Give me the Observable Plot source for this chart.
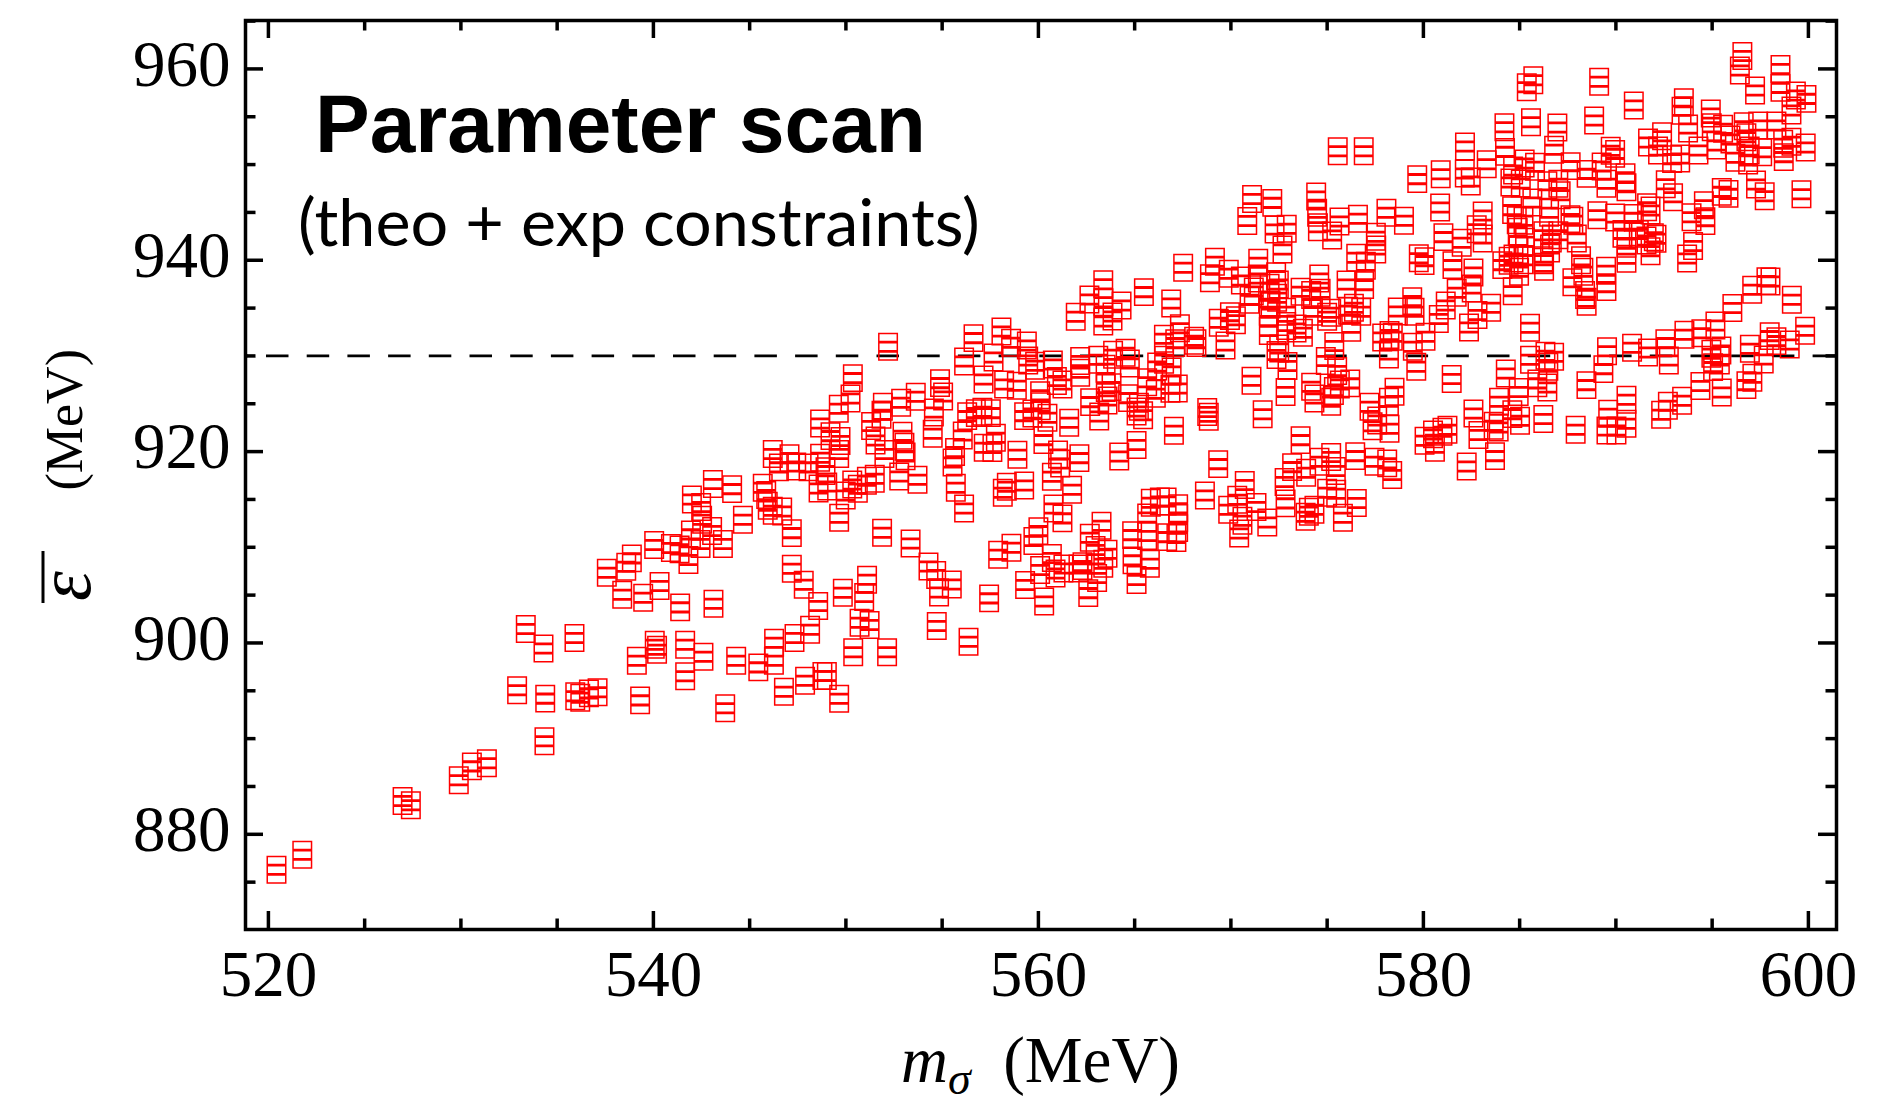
<!DOCTYPE html>
<html>
<head>
<meta charset="utf-8">
<script src="https://cdn.jsdelivr.net/npm/d3@7"></script>
<script src="https://cdn.jsdelivr.net/npm/@observablehq/plot@0.6"></script>
<style>
  html, body { margin: 0; padding: 0; background: #ffffff; }
  #chart { width: 1885px; height: 1103px; }
</style>
</head>
<body>
<div id="chart"></div>
<script>
// Scan points: sigma mass (MeV) and the mean energy (MeV) for each accepted parameter set
const massSigma = [
  543.09,544.09,542.00,542.48,541.95,542.45,543.05,543.61,541.82,541.36,540.91,540.04,542.53,538.88,538.59,537.58,
  538.38,539.47,540.32,541.39,543.12,533.37,534.29,535.90,540.07,540.19,541.65,542.60,539.14,541.65,544.30,532.92,
  534.38,535.94,536.20,536.65,537.10,539.31,543.73,534.34,530.57,531.35,529.89,526.97,527.40,521.76,520.42,
  552.19,550.36,550.24,549.63,548.66,549.20,549.72,551.31,551.92,551.85,552.87,551.54,552.94,553.04,553.10,552.77,
  552.00,546.20,546.52,547.07,547.42,548.06,548.66,548.58,548.94,549.03,549.65,549.99,550.33,550.62,551.09,551.50,
  549.65,545.68,545.86,545.94,546.20,546.69,544.65,547.19,551.88,553.36,547.19,547.81,548.56,549.84,551.10,550.95,
  550.71,551.23,548.14,547.33,546.27,546.26,545.45,550.38,552.14,547.88,548.78,549.01,546.78,549.65,
  561.94,556.63,558.08,558.58,559.40,556.14,557.67,557.15,558.22,558.88,559.83,560.75,562.17,559.47,560.09,560.96,
  561.25,562.17,553.63,554.89,555.05,554.57,554.51,553.72,556.30,556.07,556.75,557.09,557.53,557.16,557.61,557.79,
  555.67,555.54,555.71,556.14,558.91,559.26,558.36,558.15,559.26,559.69,560.12,560.47,560.26,561.60,561.02,561.13,
  562.13,560.70,561.75,560.78,561.25,554.29,554.69,554.84,555.50,554.72,556.37,557.44,557.91,558.60,559.31,559.74,
  560.00,560.09,560.30,560.70,560.89,561.30,562.08,562.29,
  567.52,569.17,568.91,569.89,570.52,571.42,571.19,570.97,563.37,562.65,563.38,564.32,565.48,566.90,563.37,563.85,
  567.35,569.95,569.37,570.26,566.52,567.11,568.09,568.21,569.72,563.11,563.49,563.88,564.53,564.75,563.50,563.59,
  563.80,562.69,563.16,564.66,565.10,565.22,565.44,565.65,566.17,566.53,566.92,566.10,566.86,567.24,567.04,565.10,
  564.20,568.77,568.85,571.07,569.34,568.65,570.72,570.33,569.86,570.60,570.43,571.33,565.84,566.31,566.66,567.26,
  567.26,567.26,567.17,565.65,565.65,564.87,566.69,565.79,564.89,565.10,563.28,562.67,562.97,563.59,563.37,563.05,
  562.59,570.85,571.10,
  575.55,576.90,579.68,572.15,574.43,574.48,574.52,575.26,575.64,576.60,572.27,572.90,572.68,571.40,572.35,572.01,
  572.49,572.40,572.06,571.97,572.87,573.62,574.17,574.59,574.66,575.21,574.26,573.41,572.87,571.97,573.74,572.51,
  572.37,572.94,572.84,571.65,574.17,574.34,575.21,575.35,575.66,574.93,575.37,575.52,576.20,575.00,576.09,576.39,
  576.77,576.25,576.01,576.51,577.01,576.92,577.53,577.55,578.08,578.99,579.76,580.06,578.67,579.42,579.54,577.86,
  578.24,578.41,578.21,579.45,579.63,580.11,577.20,577.60,577.36,578.21,578.50,578.24,580.06,573.62,573.18,573.91,
  574.60,575.21,575.45,576.46,577.46,578.12,578.38,572.79,571.89,572.84,573.88,574.05,574.34,575.00,575.47,575.82,
  576.54,
  585.37,585.71,589.13,584.21,585.59,586.96,588.87,582.16,582.15,583.29,584.24,584.66,585.26,585.80,586.79,587.65,
  588.48,589.26,580.90,580.87,582.46,584.52,585.06,585.66,586.44,587.01,587.13,584.61,584.85,585.20,586.53,587.64,
  587.79,589.04,583.08,582.77,583.08,581.99,581.04,584.90,585.28,584.94,585.20,584.68,586.23,586.67,587.01,586.58,
  586.23,587.97,588.19,588.31,588.40,588.48,587.74,589.49,584.10,584.43,584.64,584.97,586.27,582.60,581.51,581.73,
  582.51,583.52,582.81,582.37,581.16,580.80,585.54,585.54,586.34,586.79,586.49,586.44,585.92,584.28,584.95,583.93,
  584.62,585.02,583.65,583.91,586.23,588.47,589.35,582.60,582.86,583.72,582.25,581.25,580.99,580.50,580.60,581.47,
  587.91,
  596.57,596.44,598.55,597.23,598.55,599.35,599.90,599.12,590.93,593.53,593.41,592.40,591.67,592.19,592.92,593.34,
  593.75,594.29,594.93,594.98,595.57,595.22,595.95,596.21,596.64,596.78,596.95,596.87,597.39,597.60,598.34,598.69,
  598.72,599.12,599.86,597.28,597.73,599.64,595.50,595.85,592.59,592.97,589.73,589.96,590.50,590.55,589.51,590.93,
  589.96,590.34,590.55,590.55,591.62,591.80,591.19,591.59,591.97,591.80,592.11,589.51,593.70,594.01,593.93,594.57,
  594.65,597.08,597.82,598.03,599.14,596.05,595.17,594.44,593.56,592.57,591.67,590.84,589.54,592.75,594.96,595.40,
  595.05,595.48,596.96,597.99,598.34,599.03,599.83,597.68,597.09,596.78,595.50,594.39,593.44,592.70,592.35,590.55,
  589.60,590.55,590.03,589.51
];
const epsBar = [
  916.61,916.08,915.00,914.20,911.35,910.34,911.70,910.34,908.67,909.78,909.92,910.23,912.88,908.84,907.97,907.34,
  905.04,904.73,905.95,903.72,904.10,901.46,899.43,900.52,899.82,899.30,899.82,898.56,898.15,896.51,898.15,895.05,
  894.18,894.42,894.28,894.73,894.84,894.00,893.17,889.72,887.10,887.42,885.64,883.48,883.03,877.86,876.29,
  930.95,927.68,925.56,924.48,922.94,921.62,921.10,922.67,924.69,923.85,925.10,921.17,921.66,920.50,919.50,917.40,
  919.74,919.74,918.35,919.32,918.45,918.35,919.36,916.15,917.96,916.36,919.74,915.42,916.57,916.12,916.95,917.16,
  913.09,916.22,915.46,914.34,913.82,913.75,912.88,911.48,911.52,910.40,907.76,906.09,903.86,905.25,906.61,904.80,
  902.12,901.87,901.38,900.51,900.03,898.14,897.45,899.02,899.02,896.06,896.54,896.54,894.90,894.17,
  934.09,931.86,932.56,931.37,931.09,929.42,929.84,927.54,927.02,926.88,928.97,929.11,929.46,929.53,925.90,927.37,
  927.02,928.24,925.73,927.16,925.76,924.09,921.86,917.06,923.71,921.69,924.02,924.16,924.02,920.40,920.37,921.45,
  919.95,918.87,916.22,914.06,919.67,916.46,916.32,915.70,923.71,923.99,924.75,923.53,921.20,923.01,919.70,918.76,
  919.32,917.37,916.01,914.06,913.02,907.99,907.10,905.28,906.12,901.77,900.13,904.66,909.22,909.95,906.05,910.65,
  911.69,907.62,904.34,908.87,907.27,907.79,907.79,908.03,
  939.21,939.84,938.13,938.58,937.88,939.73,936.74,935.86,937.50,935.90,935.62,935.27,936.67,935.48,933.60,934.12,
  932.90,934.16,933.46,933.74,931.79,931.34,931.58,931.34,931.09,929.60,928.65,930.12,930.33,929.21,926.64,925.35,
  926.74,925.17,923.67,925.59,924.20,924.68,923.81,927.26,928.90,929.60,928.38,926.04,926.56,926.60,922.18,920.68,
  919.49,924.13,923.64,927.40,918.69,915.42,916.50,914.97,913.92,912.77,911.45,914.20,914.65,914.79,914.79,914.09,
  913.05,912.00,910.96,913.12,911.17,911.27,911.06,908.28,908.63,906.57,912.25,911.00,909.71,909.32,908.28,906.78,
  905.21,944.10,946.40,
  951.40,951.40,948.48,946.00,946.67,944.96,943.46,942.59,944.05,944.33,943.22,943.30,941.13,938.10,938.34,937.12,
  937.47,936.08,935.38,934.61,934.61,936.70,936.36,938.10,936.60,934.51,934.61,932.87,933.12,932.60,932.42,930.78,
  930.09,928.94,926.22,923.90,926.78,925.56,925.21,926.33,927.02,929.46,931.03,928.42,927.13,934.09,934.72,935.03,
  934.61,932.94,937.47,940.26,939.42,937.40,942.45,941.13,944.96,944.12,940.22,939.91,934.65,935.73,934.61,931.93,
  932.18,932.00,930.16,930.96,928.87,932.00,924.69,923.26,922.64,925.21,926.26,922.39,921.13,921.20,918.38,917.79,
  918.94,919.43,917.97,919.53,918.94,918.77,917.55,916.82,912.60,914.59,913.19,913.71,913.92,915.70,915.60,913.09,
  914.62,
  958.09,958.82,958.65,953.91,954.43,953.87,954.61,951.89,949.07,950.04,951.33,949.38,950.11,949.77,951.54,949.84,
  949.03,949.80,948.99,945.52,948.23,948.13,948.02,946.04,947.85,947.99,946.80,945.24,944.19,944.12,944.96,944.30,
  944.12,944.71,944.68,943.25,942.28,941.82,942.42,942.97,941.93,941.06,940.01,940.19,942.62,942.28,942.62,941.23,
  940.01,942.28,940.01,938.79,936.36,935.66,937.71,938.90,939.49,939.94,936.77,938.79,939.32,938.72,939.49,936.60,
  937.05,935.03,934.27,932.98,935.28,933.85,932.94,929.60,930.02,929.91,928.87,926.71,927.13,928.17,926.22,925.21,
  923.92,923.22,922.70,922.53,923.40,926.95,928.62,923.99,921.73,919.53,918.45,922.28,922.08,921.80,920.40,927.58,
  922.28,
  961.36,959.83,960.00,957.74,958.02,957.22,956.87,955.65,956.17,956.52,955.62,952.97,952.31,951.47,950.57,950.64,
  953.77,951.47,955.34,953.91,953.74,952.00,952.62,950.71,954.01,952.86,951.47,950.43,954.08,951.30,954.08,952.17,
  950.78,952.38,951.79,947.92,946.70,946.91,947.15,946.94,947.95,946.59,951.44,951.12,948.68,947.64,948.00,944.43,
  944.47,942.76,941.72,940.15,945.55,945.20,942.76,942.07,942.41,940.95,942.24,937.19,940.19,941.48,944.50,945.76,
  944.09,936.91,937.82,937.78,935.87,935.00,933.18,932.38,932.21,931.34,930.36,930.85,930.50,929.53,930.22,929.53,
  928.83,930.57,930.75,932.07,931.55,931.20,932.63,929.63,927.72,926.95,926.18,926.85,925.31,924.79,923.85,925.42,
  923.96,922.91,922.21,922.21
];

// Axis ticks
const xTickValues = [520, 540, 560, 580, 600];
const yTickValues = [880, 900, 920, 940, 960];
const xMinorValues = [525, 530, 535, 545, 550, 555, 565, 570, 575, 585, 590, 595];
const yMinorValues = [875, 885, 890, 895, 905, 910, 915, 925, 930, 935, 945, 950, 955, 965];
// Horizontal reference level
const referenceLevel = [930];

const points = massSigma.map((m, i) => ({m, e: epsBar[i]}));

// Marker: two boxed-minus squares stacked with half-side overlap
const boxedPair = {
  draw(context, size) {
    const r = Math.sqrt(size / Math.PI);
    const off = r * 0.43;
    for (const oy of [-off, off]) {
      context.moveTo(-r, oy - r);
      context.lineTo(r, oy - r);
      context.lineTo(r, oy + r);
      context.lineTo(-r, oy + r);
      context.closePath();
      context.moveTo(-r, oy);
      context.lineTo(r, oy);
    }
  }
};

const W = 1885, H = 1103;
const mL = 245, mR = 49, mT = 20, mB = 174;
const frameW = W - mL - mR, frameH = H - mT - mB;
const majorLen = 18, minorLen = 10.5;
const serif = "'Liberation Serif', 'Times New Roman', Times, serif";

const plot = Plot.plot({
  width: W,
  height: H,
  marginLeft: mL,
  marginRight: mR,
  marginTop: mT,
  marginBottom: mB,
  x: {domain: [518.81, 601.46]},
  y: {domain: [870.05, 965.06]},
  style: {fontFamily: serif, fontSize: "65px", color: "black", background: "white", overflow: "visible"},
  marks: [
    Plot.ruleY(referenceLevel, {y: d => d, stroke: "black", strokeWidth: 2.8, strokeDasharray: "22.5,18.2", strokeDashoffset: 19.7}),
    Plot.dot(points, {x: "m", y: "e", r: 9.25, symbol: boxedPair, stroke: "#ff0000", strokeWidth: 1.5, fill: "none"}),
    // inward ticks on all four sides
    Plot.tickX(xTickValues, {x: d => d, insetTop: frameH - majorLen, stroke: "black", strokeWidth: 3.5}),
    Plot.tickX(xMinorValues, {x: d => d, insetTop: frameH - minorLen, stroke: "black", strokeWidth: 3.5}),
    Plot.tickX(xTickValues, {x: d => d, insetBottom: frameH - majorLen, stroke: "black", strokeWidth: 3.5}),
    Plot.tickX(xMinorValues, {x: d => d, insetBottom: frameH - minorLen, stroke: "black", strokeWidth: 3.5}),
    Plot.tickY(yTickValues, {y: d => d, insetRight: frameW - majorLen, stroke: "black", strokeWidth: 3.5}),
    Plot.tickY(yMinorValues, {y: d => d, insetRight: frameW - minorLen, stroke: "black", strokeWidth: 3.5}),
    Plot.tickY(yTickValues, {y: d => d, insetLeft: frameW - majorLen, stroke: "black", strokeWidth: 3.5}),
    Plot.tickY(yMinorValues, {y: d => d, insetLeft: frameW - minorLen, stroke: "black", strokeWidth: 3.5}),
    Plot.axisX(xTickValues, {anchor: "bottom", tickSize: 0, tickPadding: 20, label: null, fontSize: 65}),
    Plot.axisY(yTickValues, {anchor: "left", tickSize: 0, tickPadding: 15, label: null, fontSize: 65, dy: -4}),
    Plot.frame({stroke: "black", strokeWidth: 3.5})
  ]
});

document.getElementById("chart").appendChild(plot);

const svg = d3.select(plot);

// Panel title and subtitle
svg.append("text")
  .attr("x", 315).attr("y", 152)
  .attr("text-anchor", "start")
  .attr("font-family", "'Liberation Sans', Arial, Helvetica, sans-serif")
  .attr("font-weight", "bold")
  .attr("font-size", 82)
  .attr("fill", "black")
  .text("Parameter scan");

const sub = svg.append("text")
  .attr("x", 298).attr("y", 246)
  .attr("text-anchor", "start")
  .attr("font-family", "Lato, 'Open Sans', sans-serif")
  .attr("font-size", 56)
  .attr("fill", "black")
  .text("(theo + exp constraints)");
const subLen = sub.node().getComputedTextLength();
sub.attr("font-size", 56 * 682 / subLen);

// x-axis title: m_sigma (MeV)
const xt = svg.append("text")
  .attr("x", (mL + W - mR) / 2).attr("y", 1082)
  .attr("text-anchor", "middle")
  .attr("font-family", serif)
  .attr("font-size", 65)
  .attr("fill", "black");
xt.append("tspan").attr("font-style", "italic").text("m");
xt.append("tspan").attr("font-style", "italic").attr("font-size", 46).attr("dy", 12).text("\u03C3");
xt.append("tspan").attr("dy", -12).text("\u2002(MeV)");

// y-axis title: epsilon with overbar, then the unit, reading upward
const yg = svg.append("g").attr("transform", "translate(82,475) rotate(-90)");
const eps = yg.append("text")
  .attr("x", -126).attr("y", 8)
  .attr("text-anchor", "start")
  .attr("font-family", serif)
  .attr("font-style", "italic")
  .attr("font-size", 76)
  .attr("fill", "black")
  .text("\u03B5");
yg.append("text")
  .attr("x", 126).attr("y", 0)
  .attr("text-anchor", "end")
  .attr("font-family", serif)
  .attr("font-size", 52)
  .attr("fill", "black")
  .text("(MeV)");
// overbar across the epsilon
const epsNode = eps.node();
const e0 = epsNode.getStartPositionOfChar(0).x;
const e1 = epsNode.getEndPositionOfChar(0).x;
yg.append("line")
  .attr("x1", e0 - 2).attr("x2", Math.max(e1 + 14, e0 + 50))
  .attr("y1", -39).attr("y2", -39)
  .attr("stroke", "black").attr("stroke-width", 3);
</script>
</body>
</html>
